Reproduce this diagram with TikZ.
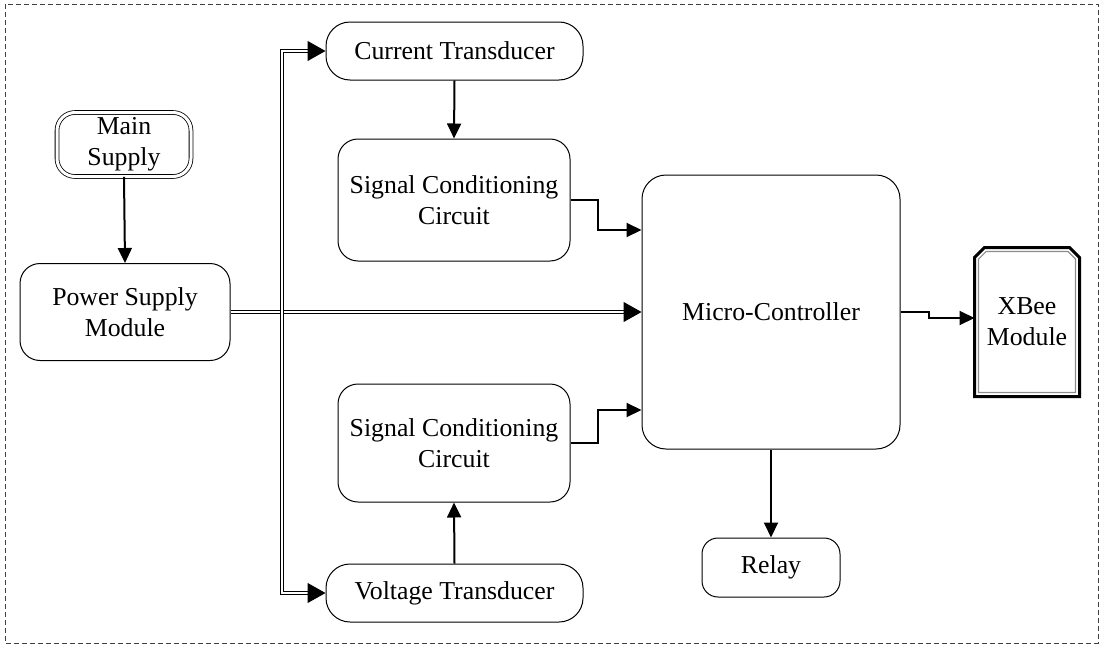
\documentclass[tikz,border=0pt]{standalone}
\usepackage{fontspec}
\setmainfont{Liberation Serif}
\usetikzlibrary{arrows.meta,calc}
\tikzset{
  box/.style={draw, line width=0.5pt, rounded corners=10pt, align=center, inner sep=0pt,
    font=\fontsize{12.9}{15.5}\selectfont},
  arr/.style={line width=1pt, -{Triangle[length=7.5pt,width=7pt]}},
  dbl/.style={draw, line width=0.5pt, double, double distance=1pt},
  dtip/.style={line width=0.5pt, -{Triangle[length=9pt,width=10pt]}},
}
\begin{document}
\begin{tikzpicture}[x=0.5pt,y=-0.5pt]
\useasboundingbox (0,0) rectangle (1103,648);
\draw[line width=0.5pt, black!75, dash pattern=on 2.5pt off 1.5pt] (5,4) rectangle (1098,643);

\node[box, double, double distance=1.5pt, line width=0.4pt, rounded corners=9pt,
  minimum width=67pt, minimum height=32pt] (ms) at (124,144.5) {Main\\Supply};
\node[box, minimum width=105pt, minimum height=48.5pt] (ps) at (125,312) {Power Supply\\Module};
\node[box, minimum width=128.5pt, minimum height=29pt, rounded corners=12pt] (ct) at (454.5,51) {Current Transducer};
\node[box, minimum width=116pt, minimum height=61pt] (sc1) at (454,200) {Signal Conditioning\\Circuit};
\node[box, minimum width=129pt, minimum height=137pt, rounded corners=12pt] (mc) at (771,312) {Micro-Controller};
\node[box, minimum width=116pt, minimum height=59pt] (sc2) at (454,443) {Signal Conditioning\\Circuit};
\node[box, minimum width=128.5pt, minimum height=29pt, rounded corners=12pt] (vt) at (454.5,593) {Voltage Transducer};
\node[box, minimum width=69pt, minimum height=29.5pt, rounded corners=8pt] (rl) at (771,567.5) {Relay};
\node[box, draw=none, minimum width=52pt, minimum height=74pt] (xb) at (1027,322) {XBee\\Module};

% XBee border
\draw[line width=1.5pt, line join=miter] (xb.south west) -- ([yshift=-5pt]xb.north west) -- ([xshift=5pt]xb.north west)
  -- ([xshift=-5pt]xb.north east) -- ([yshift=-5pt]xb.north east) -- (xb.south east) -- cycle;
\draw[line width=0.6pt, black!45] ([shift={(2pt,2pt)}]xb.south west) -- ([shift={(2pt,-5.8pt)}]xb.north west)
  -- ([shift={(5.8pt,-2pt)}]xb.north west) -- ([shift={(-5.8pt,-2pt)}]xb.north east)
  -- ([shift={(-2pt,-5.8pt)}]xb.north east) -- ([shift={(-2pt,2pt)}]xb.south east) -- cycle;

% connectors
\draw[arr] (ms.south) -- (ps.north);
\draw[arr] (ct.south) -- (sc1.north);
\draw[arr] (vt.north) -- (sc2.south);
\draw[arr] (mc.south) -- (rl.north);
\draw[arr] (sc1.east) -- ++(13.5pt,0) |- ([yshift=41pt]mc.west);
\draw[arr] (sc2.east) -- ++(13.5pt,0) |- ([yshift=-49pt]mc.west);
\draw[arr] (mc.east) -- ++(14pt,0) |- ([yshift=2pt]xb.west);

% power bus
\coordinate (bus) at (282,312);
\draw[dbl] (ps.east) -- ([xshift=-9pt]mc.west);
\draw[dtip] ([xshift=-9pt]mc.west) -- (mc.west);
\draw[dbl, line join=miter] ([xshift=-9pt]ct.west) -| (bus) |- ([xshift=-9pt]vt.west);
\draw[dtip] ([xshift=-9pt]ct.west) -- (ct.west);
\draw[dtip] ([xshift=-9pt]vt.west) -- (vt.west);
\end{tikzpicture}
\end{document}
